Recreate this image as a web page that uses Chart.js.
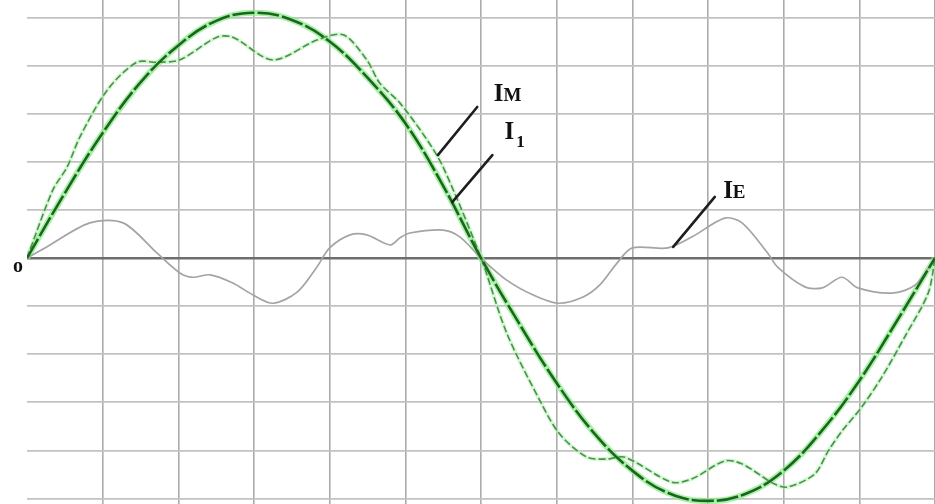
<!doctype html>
<html>
<head>
    <meta charset="UTF-8"/>
    <title>IM, I1, IE</title>
    <script src="https://cdn.jsdelivr.net/npm/chart.js@4.4.1/dist/chart.umd.min.js"></script>
</head>
<body style="margin: 0; background: #fff;">
<canvas id="myChart" width="935" height="504"></canvas>

<script>
    // one period = 12 grid divisions, one grid row = 1 unit
    let i1X = [0, 0.5, 1, 1.5, 2, 2.5, 3, 3.5, 4, 4.5, 5, 5.5, 6, 6.5, 7, 7.5, 8, 8.5, 9, 9.5, 10, 10.5, 11, 11.5, 12];
    let i1Y = [0, 1.35, 2.6, 3.65, 4.42, 4.93, 5.1, 4.95, 4.5, 3.75, 2.8, 1.5, 0, -1.35, -2.6, -3.65, -4.42, -4.9, -5.05, -4.9, -4.42, -3.6, -2.55, -1.3, 0];

    let imX = [0, 0.34, 0.53, 0.7, 1.06, 1.45, 1.72, 2.02, 2.51, 2.72, 3.25, 3.83, 4.18, 4.49, 4.66, 4.93, 5.29, 5.5, 6, 6.34, 6.78, 7.04, 7.4, 7.66, 7.9, 8.52, 8.79, 9.22, 9.45, 9.88, 10.06, 10.41, 10.59, 10.77, 11.03, 11.3, 11.6, 11.91, 12];
    let imY = [0, 1.41, 1.89, 2.52, 3.49, 4.07, 4.07, 4.12, 4.59, 4.59, 4.12, 4.53, 4.64, 4.12, 3.64, 3.22, 2.45, 1.89, 0, -1.56, -2.97, -3.66, -4.14, -4.18, -4.14, -4.66, -4.59, -4.22, -4.28, -4.7, -4.76, -4.49, -4.01, -3.6, -3.1, -2.47, -1.64, -0.73, 0];

    let ieX = [0, 0.26, 0.83, 1.27, 1.72, 2.02, 2.19, 2.42, 2.72, 2.99, 3.25, 3.57, 3.83, 4, 4.27, 4.49, 4.8, 4.93, 5.06, 5.5, 5.72, 6, 6.34, 6.69, 7.02, 7.35, 7.57, 7.8, 8, 8.47, 8.79, 9.22, 9.45, 9.79, 9.92, 10.28, 10.51, 10.77, 10.98, 11.43, 11.74, 12];
    let ieY = [0, 0.23, 0.73, 0.73, 0.1, -0.31, -0.4, -0.35, -0.52, -0.77, -0.94, -0.71, -0.19, 0.21, 0.48, 0.48, 0.27, 0.42, 0.52, 0.58, 0.44, 0, -0.46, -0.77, -0.94, -0.81, -0.56, -0.1, 0.21, 0.21, 0.44, 0.83, 0.73, 0.1, -0.19, -0.6, -0.62, -0.4, -0.62, -0.73, -0.56, 0];

    // curve labels with their leader lines, in chart units
    let notes = [
        {main: 'I', small: 'M', sub: false, x: 6.17, y: 3.26, from: [5.95, 3.14], to: [5.43, 2.14]},
        {main: 'I', small: '1', sub: true, x: 6.31, y: 2.47, from: [6.15, 2.14], to: [5.62, 1.16]},
        {main: 'I', small: 'E', sub: false, x: 9.2, y: 1.25, from: [9.09, 1.27], to: [8.54, 0.23]},
    ];

    const pts = (xs, ys) => xs.map((x, i) => ({x: x, y: ys[i]}));

    const labelPlugin = {
        id: 'curveLabels',
        afterDatasetsDraw(chart) {
            const ctx = chart.ctx;
            const sx = chart.scales.x, sy = chart.scales.y;
            ctx.save();
            ctx.strokeStyle = '#1e1e1e';
            ctx.fillStyle = '#111';
            ctx.lineWidth = 2.6;
            ctx.lineCap = 'round';
            notes.forEach((n) => {
                ctx.beginPath();
                ctx.moveTo(sx.getPixelForValue(n.from[0]), sy.getPixelForValue(n.from[1]));
                ctx.lineTo(sx.getPixelForValue(n.to[0]), sy.getPixelForValue(n.to[1]));
                ctx.stroke();
                let px = sx.getPixelForValue(n.x), py = sy.getPixelForValue(n.y);
                ctx.textBaseline = 'alphabetic';
                ctx.font = 'bold 25px "Liberation Serif"';
                ctx.fillText(n.main, px, py);
                let w = ctx.measureText(n.main).width;
                if (n.sub) {
                    ctx.font = 'bold 17px "Liberation Serif"';
                    ctx.fillText(n.small, px + w + 2, py + 8);
                } else {
                    ctx.font = 'bold 19px "Liberation Serif"';
                    ctx.fillText(n.small, px + w, py);
                }
            });
            // origin mark
            ctx.font = 'bold 20px "Liberation Serif"';
            ctx.textAlign = 'center';
            ctx.fillText('o', sx.getPixelForValue(-0.12), sy.getPixelForValue(-0.29));
            ctx.restore();
        }
    };

    var ctx = document.getElementById('myChart').getContext('2d');
    var myChart = new Chart(ctx, {
        type: 'line',
        data: {
            datasets: [
                {
                    label      : 'I1 glow',
                    data       : pts(i1X, i1Y),
                    borderWidth: 6,
                    borderColor: 'rgba(140, 235, 140, 0.75)',
                    tension    : 0.4,
                    order      : 5,
                },
                {
                    label      : 'IM glow',
                    data       : pts(imX, imY),
                    borderWidth: 4,
                    borderColor: 'rgba(170, 240, 170, 0.5)',
                    tension    : 0.3,
                    order      : 4,
                },
                {
                    label      : 'IE',
                    data       : pts(ieX, ieY),
                    borderWidth: 1.7,
                    borderColor: '#a4a4a4',
                    tension    : 0.3,
                    order      : 3,
                },
                {
                    label      : 'IM',
                    data       : pts(imX, imY),
                    borderWidth: 1.6,
                    borderColor: '#4a914a',
                    borderDash : [7, 3],
                    tension    : 0.3,
                    order      : 2,
                },
                {
                    label      : 'I1',
                    data       : pts(i1X, i1Y),
                    borderWidth: 2.6,
                    borderColor: '#1a661c',
                    borderDash : [22, 3],
                    tension    : 0.4,
                    order      : 1,
                },
            ]
        },
        options: {
            responsive: false,
            animation : false,
            layout    : {padding: {left: 27, top: 0, right: 0, bottom: 0}},
            elements  : {point: {radius: 0}},
            plugins   : {legend: {display: false}, tooltip: {enabled: false}},
            scales    : {
                x: {
                    type  : 'linear',
                    min   : 0,
                    max   : 12,
                    afterBuildTicks: (s) => { s.ticks = [1, 2, 3, 4, 5, 6, 7, 8, 9, 10, 11, 12].map((v) => ({value: v})); },
                    ticks : {display: false},
                    border: {display: false},
                    grid  : {color: '#ababab', lineWidth: 1.6, drawTicks: false},
                },
                y: {
                    min   : -5.114,
                    max   : 5.364,
                    afterBuildTicks: (s) => { s.ticks = [-5, -4, -3, -2, -1, 0, 1, 2, 3, 4, 5].map((v) => ({value: v})); },
                    ticks : {display: false},
                    border: {display: false},
                    grid  : {
                        color    : (c) => c.tick && c.tick.value === 0 ? '#6e6e6e' : '#c2c2c2',
                        lineWidth: (c) => c.tick && c.tick.value === 0 ? 2.6 : 1.8,
                        drawTicks: false,
                    },
                },
            },
        },
        plugins: [labelPlugin],
    });
</script>
</body>
</html>
